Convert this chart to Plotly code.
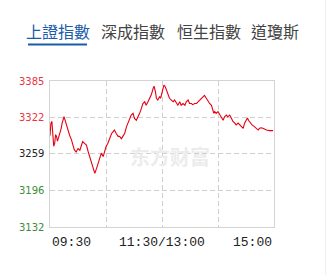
import plotly.graph_objects as go

# ---- data ----
tabs = ["上證指數", "深成指數", "恒生指數", "道瓊斯"]
y_ticks = [3385, 3322, 3259, 3196, 3132]
x_tick_labels = ["09:30", "11:30/13:00", "15:00"]
x_tick_minutes = [0, 120, 240]

minutes = [0, 1, 2, 3, 4, 5, 6, 7, 8, 9, 10, 11, 12, 13, 14, 15, 16, 17, 18, 19,
           21, 23, 25, 26, 28, 30, 32, 34, 35, 37, 39, 41, 42.5, 44, 46, 48, 50, 51.5,
           53, 55, 57, 58.5, 60, 62, 64, 66, 67.5, 69, 71, 73, 74.5, 76.5, 78, 80, 82,
           83.5, 85.5, 87, 89, 90.5, 92.5, 94.5, 96, 98, 99.5, 101.5, 103, 105, 107,
           108.5, 110.5, 111.5, 113, 114, 115.5, 117.5, 118.5, 119.5, 120.5, 122, 123.5,
           125.5, 127, 128, 130, 132, 133.5, 135.5, 137, 139, 140.5, 142.5, 144.5, 146,
           148, 149.5, 151.5, 153, 155, 157, 159, 160.5, 163, 165.5, 167.5, 169.5, 171,
           173, 174, 175.5, 176.5, 178, 180, 182, 183.5, 185.5, 187, 189, 190.5, 192.5,
           194.5, 196, 198, 199.5, 201.5, 203, 205, 207, 208.5, 210.5, 211.5, 213, 214.5,
           216.5, 219, 221, 223, 224.5, 226.5, 228, 230, 232, 235, 239]
index_values = [3290, 3312, 3315, 3295, 3272, 3277, 3292, 3289, 3281, 3286, 3291, 3297,
                3303, 3312, 3320, 3323, 3318, 3312, 3306, 3300, 3291, 3283, 3273, 3266,
                3262, 3268, 3265, 3277, 3280, 3277, 3274, 3262, 3254, 3242, 3234, 3225,
                3234, 3242, 3251, 3260, 3254, 3262, 3271, 3277, 3286, 3294, 3297, 3300,
                3294, 3289, 3289, 3285, 3289, 3294, 3306, 3312, 3317, 3326, 3329, 3320,
                3317, 3323, 3329, 3338, 3346, 3349, 3343, 3349, 3355, 3361, 3372, 3376,
                3366, 3355, 3352, 3358, 3355, 3361, 3369, 3378, 3375, 3366, 3361, 3355,
                3352, 3349, 3352, 3346, 3343, 3349, 3343, 3346, 3343, 3349, 3352, 3346,
                3346, 3344, 3346, 3346, 3349, 3352, 3355, 3360, 3355, 3349, 3346, 3343,
                3335, 3329, 3332, 3329, 3332, 3326, 3323, 3317, 3323, 3326, 3323, 3326,
                3320, 3315, 3312, 3309, 3312, 3309, 3306, 3303, 3312, 3317, 3321, 3316,
                3312, 3309, 3306, 3303, 3300, 3303, 3304, 3303, 3301, 3300, 3299, 3299]

tick_colors = ["#e8353f", "#e8353f", "#222222", "#3b8c3b", "#3b8c3b"]

W, H = 327, 275
L, R, T, B = 50, 274, 81, 227


def px(x):
    return (x - L) / (R - L)


def py(y):
    return (B - y) / (B - T)


fig = go.Figure()
fig.add_trace(go.Scatter(x=minutes, y=index_values, mode="lines",
                         line=dict(color="#e60012", width=1.1), hoverinfo="skip"))

grid = dict(showgrid=True, gridcolor="#cfcfcf", gridwidth=1, griddash="5px,3px",
            zeroline=False, showticklabels=False, ticks="",
            showline=True, linecolor="#d4d4d4", linewidth=1, mirror=True)

fig.update_layout(
    width=W, height=H,
    margin=dict(l=L, r=W - R, t=T, b=H - B),
    paper_bgcolor="white", plot_bgcolor="white",
    showlegend=False,
    xaxis=dict(range=[0, 240], tickvals=[60, 120, 180], **grid),
    yaxis=dict(range=[y_ticks[-1], y_ticks[0]], tickvals=y_ticks[1:-1], **grid),
)

# y labels
for v, c in zip(y_ticks, tick_colors):
    fig.add_annotation(x=0, xref="paper", y=v, yref="y", text=str(v), showarrow=False,
                       xanchor="right", yanchor="middle", xshift=-4,
                       font=dict(family="DejaVu Sans", size=10, color=c))

# x labels
anchors = ["left", "center", "right"]
for m, t, a in zip(x_tick_minutes, x_tick_labels, anchors):
    fig.add_annotation(x=m, xref="x", y=0, yref="paper", text=t, showarrow=False,
                       xanchor=a, yanchor="middle", yshift=-15,
                       font=dict(family="Liberation Mono", size=13, color="#222222"))

# watermark
fig.add_annotation(x=px(170), xref="paper", y=py(156), yref="paper",
                   text="<b>东方财富</b>", showarrow=False, xanchor="center", yanchor="middle",
                   font=dict(family="Noto Sans CJK SC", size=20, color="#ececec"))

# tabs
tab_centers = [58, 133, 209, 275]
for i, (t, cx) in enumerate(zip(tabs, tab_centers)):
    fig.add_annotation(x=px(cx), xref="paper", y=py(31), yref="paper",
                       yanchor="middle", xanchor="center", text=t, showarrow=False,
                       font=dict(family="Noto Sans CJK TC", size=16,
                                 color="#1a5ca8" if i == 0 else "#444444"))
fig.add_shape(type="line", xref="paper", yref="paper",
              x0=px(28), x1=px(87), y0=py(44.5), y1=py(44.5),
              line=dict(color="#1a5ca8", width=2))
fig.add_shape(type="line", xref="paper", yref="paper",
              x0=px(325.5), x1=px(325.5), y0=py(0), y1=py(H),
              line=dict(color="#eeeeee", width=1))

fig.write_html("out.html")
